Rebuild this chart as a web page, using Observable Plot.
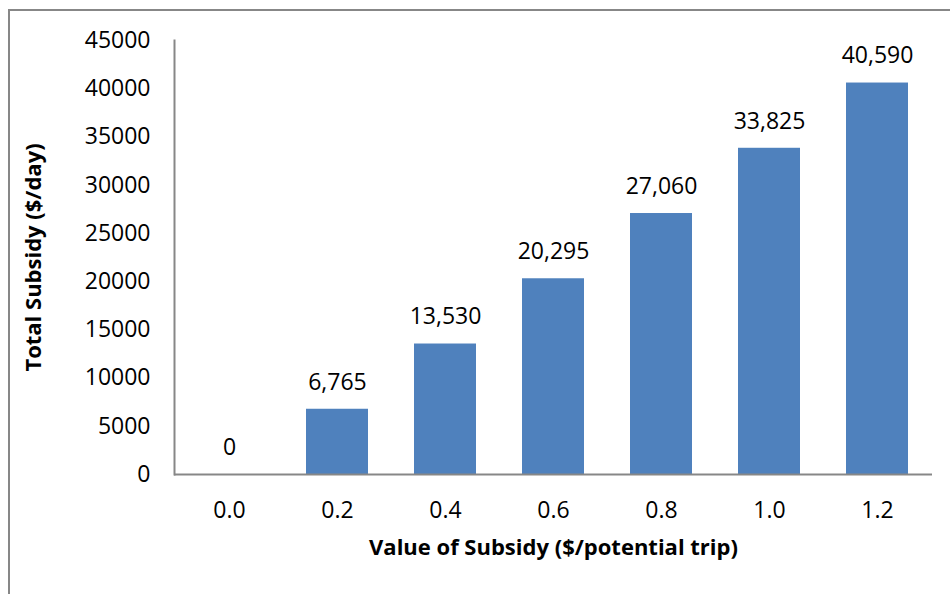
<!DOCTYPE html>
<html>
<head>
<meta charset="utf-8">
<script src="https://cdn.jsdelivr.net/npm/d3@7"></script>
<script src="https://cdn.jsdelivr.net/npm/@observablehq/plot@0.6"></script>
<style>
  html, body { margin: 0; padding: 0; background: #fff; }
  #wrap { position: relative; width: 950px; height: 594px; overflow: hidden; }
  #frame { position: absolute; left: 8px; top: 9px; width: 960px; height: 600px;
           border: 2px solid #878787; box-sizing: border-box; }
  #chart { position: absolute; left: 0; top: 0; }
  #chart svg { font-family: "Open Sans", sans-serif; }
</style>
</head>
<body>
<div id="wrap">
  <div id="frame"></div>
  <div id="chart"></div>
</div>
<script>
// Subsidy per potential trip and the resulting total daily subsidy
const subsidyValues = ["0.0", "0.2", "0.4", "0.6", "0.8", "1.0", "1.2"];
const totalSubsidy = [0, 6765, 13530, 20295, 27060, 33825, 40590];
const yTicks = [0, 5000, 10000, 15000, 20000, 25000, 30000, 35000, 40000, 45000];

const rows = subsidyValues.map((v, i) => ({value: v, total: totalSubsidy[i]}));
const axisColor = "#878787";
const barColor = "#4F81BD";

const chart = Plot.plot({
  width: 950,
  height: 594,
  marginLeft: 174,
  marginRight: 18,
  marginTop: 40,
  marginBottom: 120,
  style: {fontSize: "23px", color: "#000", background: "transparent"},
  x: {domain: subsidyValues, paddingInner: 0.43, paddingOuter: 0.215, label: null},
  y: {domain: [0, 45000], label: null},
  marks: [
    Plot.axisY({ticks: yTicks, tickSize: 0, tickPadding: 24, tickFormat: d => String(d), fontSize: 23}),
    Plot.axisX({tickSize: 0, tickPadding: 27, fontSize: 23}),
    Plot.barY(rows, {x: "value", y: "total", fill: barColor}),
    Plot.text(rows, {x: "value", y: "total", text: d => d3.format(",")(d.total), dy: -27, fontSize: 23}),
    Plot.frame({anchor: "left", stroke: axisColor, strokeWidth: 2}),
    Plot.ruleY([0], {stroke: axisColor, strokeWidth: 2}),
    Plot.text(["Value of Subsidy ($/potential trip)"], {frameAnchor: "bottom", dy: 80, fontWeight: "bold", fontSize: 22}),
    Plot.text(["Total Subsidy ($/day)"], {frameAnchor: "left", textAnchor: "middle", dx: -141, rotate: -90, fontWeight: "bold", fontSize: 22})
  ]
});
document.getElementById("chart").appendChild(chart);
</script>
</body>
</html>
